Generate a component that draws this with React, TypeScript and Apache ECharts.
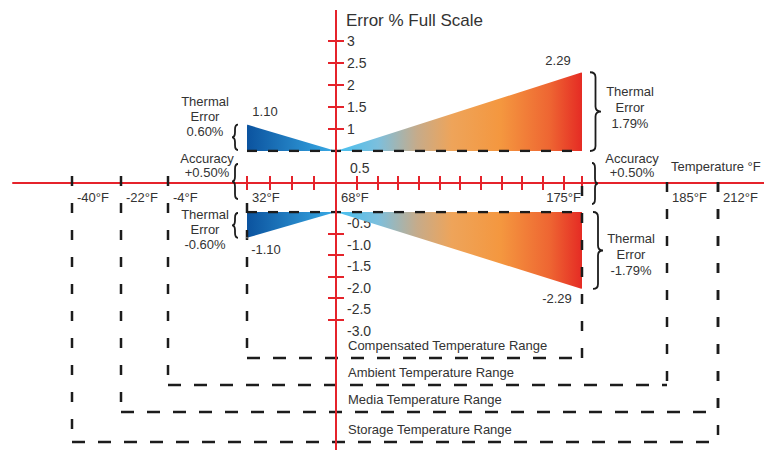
import React, { useEffect, useRef } from 'react';
import * as echarts from 'echarts';

// ---------------- data ----------------
const TEMP_LABELS_F = [-40, -22, -4, 32, 68, 175, 185, 212];
const TEMP_MINOR_TICKS_F = [32, 41, 50, 59, 68, 77, 86, 95, 104, 113, 122, 131, 140, 149, 158, 167, 175];
const TEMP_LABELS_RIGHT_ALIGNED_F = [175];
const REFERENCE_TEMP_F = 68;

const ERROR_POS_TICKS = [1, 1.5, 2, 2.5, 3];
const ERROR_POS_LABELS = [0.5, 1, 1.5, 2, 2.5, 3];
const ERROR_NEG_TICKS = [-1, -1.5, -2, -2.5, -3];
const ERROR_NEG_LABELS = [-0.5, -1, -1.5, -2, -2.5, -3];

const ACCURACY_PCT = 0.5;
const COMP_LOW_F = 32;
const COMP_HIGH_F = 175;
const ERROR_AT_LOW = 1.1;
const ERROR_AT_HIGH = 2.29;
const THERMAL_ERROR_LOW = 0.6;
const THERMAL_ERROR_HIGH = 1.79;

const RANGE_NAMES = [
  'Compensated Temperature Range',
  'Ambient Temperature Range',
  'Media Temperature Range',
  'Storage Temperature Range',
];
const RANGE_MIN_F = [32, -4, -22, -40];
const RANGE_MAX_F = [175, 185, 212, 212];

// ---------------- layout / style ----------------
const W = 764;
const H = 450;
// schematic (non-uniform) temperature scale: axis position of each labelled temperature
const TEMP_AXIS_POS = [72, 121, 168, 247, 336, 582, 667, 718];
const TEMP_AXIS_Y = 183;
const TOP_GRID = { top: 19, height: 132 }; // 0.5 .. 3.5
const BOT_GRID = { top: 212, height: 129 }; // -3.5 .. -0.5
const RANGE_BOTTOM_Y = [358, 385, 412, 442];
const RANGE_TOP_Y_LEFT = [203, 176, 176, 176];
const RANGE_TOP_Y_RIGHT = [186, 182, 182, 182];
const RED_LINE_TOP = 10;

const FONT = "'Liberation Sans', Arial, Helvetica, sans-serif";
const TEXT = '#333333';
const RED = '#e5232b';
const INK = '#1c1c1c';

function tx(t: number): number {
  const T = TEMP_LABELS_F;
  const P = TEMP_AXIS_POS;
  let i = 0;
  while (i < T.length - 2 && t > T[i + 1]) i++;
  return P[i] + ((t - T[i]) / (T[i + 1] - T[i])) * (P[i + 1] - P[i]);
}

function tempLabel(v: number): string {
  for (const t of TEMP_LABELS_F) {
    if (Math.abs(tx(t) - v) < 0.5) return `${t}°F`;
  }
  return '';
}

function bracePath(h: number, w: number, pointRight: boolean): string {
  const s = w / 2;
  const m = h / 2;
  const r = Math.min(5, h / 5);
  const X = (x: number) => (pointRight ? x : w - x);
  return (
    `M${X(0)},0 Q${X(s)},0 ${X(s)},${r} L${X(s)},${m - r} ` +
    `Q${X(s)},${m} ${X(w)},${m} Q${X(s)},${m} ${X(s)},${m + r} ` +
    `L${X(s)},${h - r} Q${X(s)},${h} ${X(0)},${h}`
  );
}

const blueGrad = () =>
  new echarts.graphic.LinearGradient(0, 0, 1, 0, [
    { offset: 0, color: '#0b539f' },
    { offset: 1, color: '#39abe6' },
  ]);
const warmGrad = () =>
  new echarts.graphic.LinearGradient(0, 0, 1, 0, [
    { offset: 0, color: '#44bff0' },
    { offset: 0.17, color: '#7cbfdd' },
    { offset: 0.33, color: '#c6ab8a' },
    { offset: 0.47, color: '#eea45a' },
    { offset: 0.67, color: '#f4973f' },
    { offset: 0.87, color: '#ee6532' },
    { offset: 1, color: '#e52b24' },
  ]);

function buildOption(): any {
  const hiddenX = (gridIndex: number) => ({
    type: 'value', gridIndex, min: 0, max: W, show: false, splitLine: { show: false },
  });
  const refX = tx(REFERENCE_TEMP_F);
  const labelBase = { color: TEXT, fontSize: 14, fontFamily: FONT };

  const tri = (xi: number, yi: number, pts: number[][], origin: string, color: any) => ({
    type: 'line', xAxisIndex: xi, yAxisIndex: yi, data: pts, symbol: 'none', silent: true,
    lineStyle: { width: 0, opacity: 0 }, areaStyle: { origin, color, opacity: 1 }, z: 1,
  });
  const seg = (xi: number, yi: number, pts: number[][], dash: number[], z = 3) => ({
    type: 'line', xAxisIndex: xi, yAxisIndex: yi, data: pts, symbol: 'none', silent: true,
    lineStyle: { color: INK, width: 2.5, type: dash }, z,
  });
  const valueLabels = (xi: number, yi: number, items: { v: number[]; off: number[] }[]) => ({
    type: 'scatter', xAxisIndex: xi, yAxisIndex: yi, symbolSize: 1, silent: true,
    itemStyle: { color: '#ffffff', opacity: 1 }, z: 6,
    data: items.map((it) => ({ value: it.v, label: { offset: it.off } })),
    label: {
      show: true, position: 'inside', color: TEXT, opacity: 1, fontSize: 13, fontFamily: FONT,
      textBorderWidth: 0, textBorderColor: 'transparent', textShadowBlur: 0,
      formatter: (p: any) => Number(p.value[1]).toFixed(2),
    },
  });

  const series: any[] = [
    tri(1, 1, [[tx(COMP_LOW_F), ERROR_AT_LOW], [refX, ACCURACY_PCT]], 'start', blueGrad()),
    tri(1, 1, [[refX, ACCURACY_PCT], [tx(COMP_HIGH_F), ERROR_AT_HIGH]], 'start', warmGrad()),
    seg(1, 1, [[tx(COMP_LOW_F), ACCURACY_PCT], [tx(COMP_HIGH_F), ACCURACY_PCT]], [10, 11]),
    valueLabels(1, 1, [
      { v: [tx(COMP_LOW_F), ERROR_AT_LOW], off: [18, -13] },
      { v: [tx(COMP_HIGH_F), ERROR_AT_HIGH], off: [-24, -12] },
    ]),
    tri(2, 3, [[tx(COMP_LOW_F), -ERROR_AT_LOW], [refX, -ACCURACY_PCT]], 'end', blueGrad()),
    tri(2, 3, [[refX, -ACCURACY_PCT], [tx(COMP_HIGH_F), -ERROR_AT_HIGH]], 'end', warmGrad()),
    seg(2, 3, [[tx(COMP_LOW_F), -ACCURACY_PCT], [tx(COMP_HIGH_F), -ACCURACY_PCT]], [10, 11]),
    valueLabels(2, 3, [
      { v: [tx(COMP_LOW_F), -ERROR_AT_LOW], off: [19, 12] },
      { v: [tx(COMP_HIGH_F), -ERROR_AT_HIGH], off: [-25, 10] },
    ]),
    {
      type: 'line', xAxisIndex: 0, yAxisIndex: 0, symbol: 'none', silent: true, z: 8,
      data: [[refX, RED_LINE_TOP], [refX, H]],
      lineStyle: { color: RED, width: 2 },
    },
  ];
  RANGE_NAMES.forEach((_, i) => {
    const xl = tx(RANGE_MIN_F[i]);
    const xr = tx(RANGE_MAX_F[i]);
    const yb = RANGE_BOTTOM_Y[i];
    series.push(seg(0, 0, [[xl, RANGE_TOP_Y_LEFT[i]], [xl, yb]], [10, 17], 4));
    series.push(seg(0, 0, [[xr, RANGE_TOP_Y_RIGHT[i]], [xr, yb]], [10, 17], 4));
    series.push(seg(0, 0, [[xl, yb], [xr, yb]], [13, 13], 4));
  });

  const gridCommon = { left: 0, width: W, containLabel: false, outerBoundsMode: 'none' };

  return {
    animation: false,
    backgroundColor: '#ffffff',
    textStyle: { fontFamily: FONT },
    grid: [
      { ...gridCommon, top: 0, height: H },
      { ...gridCommon, top: TOP_GRID.top, height: TOP_GRID.height },
      { ...gridCommon, top: BOT_GRID.top, height: BOT_GRID.height },
      { left: 13, width: W - 13, top: TEMP_AXIS_Y - 33, height: 33, containLabel: false, outerBoundsMode: 'none' },
    ],
    xAxis: [
      hiddenX(0),
      hiddenX(1),
      hiddenX(2),
      {
        type: 'value', gridIndex: 3, min: 13, max: W, position: 'bottom',
        splitLine: { show: false },
        axisLine: { show: true, onZero: false, lineStyle: { color: RED, width: 2 } },
        axisTick: {
          show: true, inside: true, length: 7,
          customValues: TEMP_MINOR_TICKS_F.map(tx),
          lineStyle: { color: RED, width: 2 },
        },
        axisLabel: {
          show: true, margin: 8, align: 'left', padding: [0, 0, 0, 5],
          customValues: TEMP_LABELS_F.filter((t) => !TEMP_LABELS_RIGHT_ALIGNED_F.includes(t)).map(tx),
          formatter: (v: number) => tempLabel(v),
          color: TEXT, fontSize: 13, fontFamily: FONT,
        },
      },
      {
        type: 'value', gridIndex: 3, min: 13, max: W, position: 'bottom',
        splitLine: { show: false },
        axisLine: { show: false, onZero: false },
        axisTick: {
          show: true, inside: false, length: 7,
          customValues: TEMP_MINOR_TICKS_F.map(tx),
          lineStyle: { color: RED, width: 2 },
        },
        axisLabel: {
          show: true, margin: 8, align: 'right', padding: [0, 1, 0, 0],
          customValues: TEMP_LABELS_RIGHT_ALIGNED_F.map(tx),
          formatter: (v: number) => tempLabel(v),
          color: TEXT, fontSize: 13, fontFamily: FONT,
        },
      },
    ],
    yAxis: [
      { type: 'value', gridIndex: 0, min: 0, max: H, inverse: true, show: false, splitLine: { show: false } },
      {
        type: 'value', gridIndex: 1, min: 0.5, max: 3.5, position: 'left', offset: -refX,
        splitLine: { show: false }, axisLine: { show: false },
        axisTick: { show: true, inside: true, length: 8, customValues: ERROR_POS_TICKS, lineStyle: { color: RED, width: 2 } },
        axisLabel: {
          show: true, inside: true, margin: 11, customValues: ERROR_POS_LABELS, ...labelBase,
          formatter: (v: number) => (v === ACCURACY_PCT ? `{low|${v}}` : `${v}`),
          rich: { low: { padding: [34, 0, 0, 3], ...labelBase } },
        },
      },
      {
        type: 'value', gridIndex: 1, min: 0.5, max: 3.5, position: 'left', offset: -refX,
        splitLine: { show: false }, axisLine: { show: false }, axisLabel: { show: false },
        axisTick: { show: true, inside: false, length: 8, customValues: ERROR_POS_TICKS, lineStyle: { color: RED, width: 2 } },
      },
      {
        type: 'value', gridIndex: 2, min: -3.5, max: -0.5, position: 'left', offset: -refX,
        splitLine: { show: false }, axisLine: { show: false },
        axisTick: { show: true, inside: true, length: 8, customValues: ERROR_NEG_TICKS, lineStyle: { color: RED, width: 2 } },
        axisLabel: {
          show: true, inside: true, margin: 11, customValues: ERROR_NEG_LABELS, ...labelBase,
          formatter: (v: number) => `{n|${v.toFixed(1)}}`,
          rich: { n: { padding: [22, 0, 0, 0], ...labelBase } },
        },
      },
      {
        type: 'value', gridIndex: 2, min: -3.5, max: -0.5, position: 'left', offset: -refX,
        splitLine: { show: false }, axisLine: { show: false }, axisLabel: { show: false },
        axisTick: { show: true, inside: false, length: 8, customValues: ERROR_NEG_TICKS, lineStyle: { color: RED, width: 2 } },
      },
      { type: 'value', gridIndex: 3, min: 0, max: 1, show: false, splitLine: { show: false } },
    ],
    series,
  };
}

function buildGraphic(chart: any): any[] {
  const pTop = (v: number) => chart.convertToPixel({ seriesIndex: 0 }, [0, v])[1];
  const pBot = (v: number) => chart.convertToPixel({ seriesIndex: 4 }, [0, v])[1];
  const refX = tx(REFERENCE_TEMP_F);

  const txt = (x: number, y: number, text: string, opts: any = {}) => ({
    type: 'text', x, y, z: 10, silent: true,
    style: {
      text, fill: TEXT, fontSize: opts.fontSize || 13, fontFamily: FONT,
      align: opts.align || 'center', textAlign: opts.align || 'center',
      verticalAlign: 'middle', textVerticalAlign: 'middle',
      lineHeight: opts.lh || 15,
    },
  });

  const els: any[] = [
    txt(346, 20, 'Error % Full Scale', { fontSize: 17, align: 'left' }),
    txt(671, 166, 'Temperature °F', { align: 'left' }),
    txt(205, 116, `Thermal\nError\n${THERMAL_ERROR_LOW.toFixed(2)}%`, { lh: 15 }),
    txt(207, 165, `Accuracy\n+${ACCURACY_PCT.toFixed(2)}%`, { lh: 14 }),
    txt(205, 229, `Thermal\nError\n-${THERMAL_ERROR_LOW.toFixed(2)}%`, { lh: 15 }),
    txt(630, 107, `Thermal\nError\n${THERMAL_ERROR_HIGH.toFixed(2)}%`, { lh: 16 }),
    txt(632, 165, `Accuracy\n+${ACCURACY_PCT.toFixed(2)}%`, { lh: 14 }),
    txt(631, 254, `Thermal\nError\n-${THERMAL_ERROR_HIGH.toFixed(2)}%`, { lh: 16 }),
  ];
  RANGE_NAMES.forEach((name, i) => {
    els.push(txt(refX + 12, RANGE_BOTTOM_Y[i] - 13, name, { align: 'left' }));
  });

  const braces = [
    { x: 232, y1: pTop(ERROR_AT_LOW), y2: pTop(ACCURACY_PCT) - 1, w: 6, right: false },
    { x: 232, y1: 164, y2: 199, w: 6, right: false },
    { x: 232, y1: pBot(-ACCURACY_PCT) + 1, y2: pBot(-ERROR_AT_LOW), w: 6, right: false },
    { x: 590, y1: pTop(ERROR_AT_HIGH), y2: pTop(ACCURACY_PCT), w: 11, right: true },
    { x: 592, y1: 163, y2: 204, w: 6, right: true },
    { x: 593, y1: pBot(-ACCURACY_PCT), y2: pBot(-ERROR_AT_HIGH), w: 10, right: true },
  ];
  braces.forEach((b, i) => {
    const name = `brace${i}`;
    echarts.graphic.registerShape(name, echarts.graphic.extendPath(bracePath(b.y2 - b.y1, b.w, b.right), {}) as any);
    els.push({
      type: name, x: b.x, y: b.y1, z: 10, silent: true,
      style: { stroke: INK, lineWidth: 1.8, fill: 'none' },
    });
  });
  return els;
}

export default function App() {
  const ref = useRef<HTMLDivElement>(null);
  useEffect(() => {
    if (!ref.current) return;
    const chart = echarts.init(ref.current, null, { renderer: 'svg' });
    chart.setOption(buildOption());
    chart.setOption({ graphic: { elements: buildGraphic(chart) } });
    return () => chart.dispose();
  }, []);
  return (
    <div
      ref={ref}
      style={{ position: 'fixed', left: 0, top: 0, width: W, height: H, background: '#fff' }}
    />
  );
}
